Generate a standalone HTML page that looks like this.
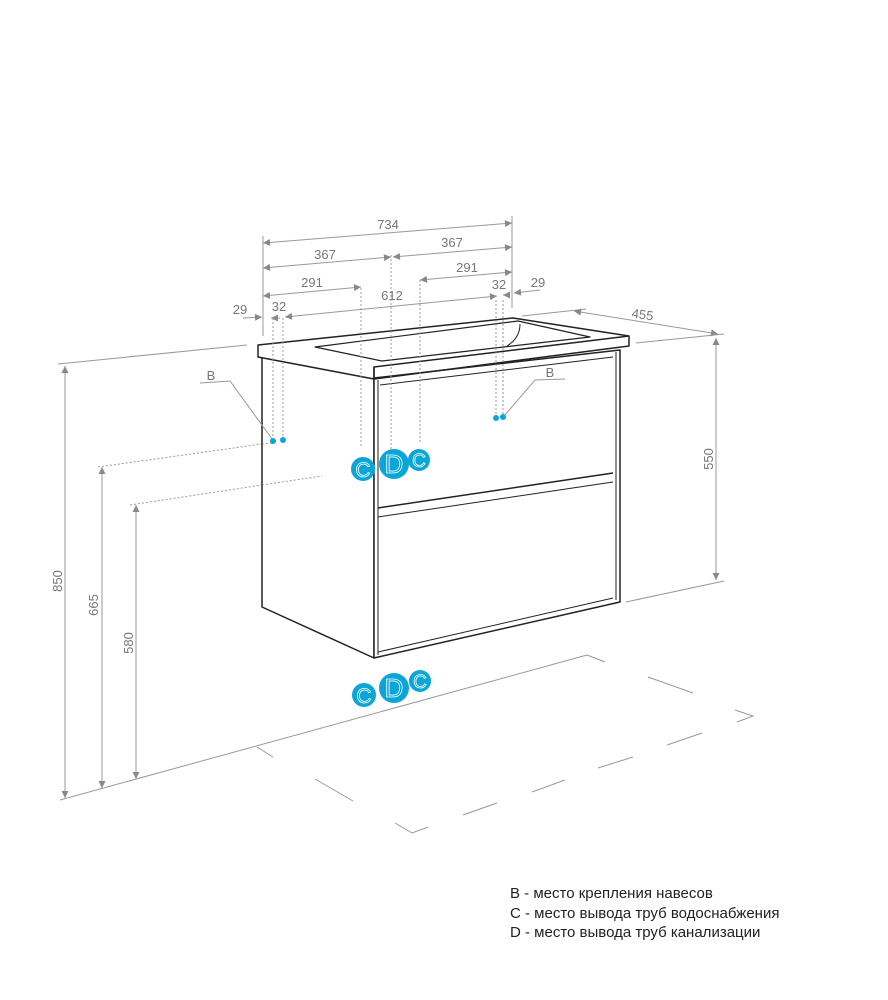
<!DOCTYPE html>
<html><head><meta charset="utf-8"><style>
html,body{margin:0;padding:0;background:#fff;}
svg{display:block;}
text{font-family:"Liberation Sans",sans-serif;}
</style></head><body>
<svg width="888" height="1000" viewBox="0 0 888 1000" xmlns="http://www.w3.org/2000/svg">
<defs>
<marker id="a" viewBox="0 0 10 10" refX="10" refY="5" markerWidth="9" markerHeight="7" orient="auto-start-reverse" markerUnits="userSpaceOnUse"><path d="M0,0 L10,5 L0,10 z" fill="#888"/></marker>
</defs>
<g stroke="#999" stroke-width="1" fill="none">
<line x1="263" y1="236" x2="263" y2="336"/>
<line x1="512" y1="216" x2="512" y2="308"/>
<line x1="263" y1="243" x2="512" y2="223" marker-start="url(#a)" marker-end="url(#a)"/>
<line x1="263" y1="268" x2="391" y2="257" marker-start="url(#a)" marker-end="url(#a)"/>
<line x1="393" y1="257" x2="512" y2="247" marker-start="url(#a)" marker-end="url(#a)"/>
<line x1="263" y1="296" x2="361" y2="287" marker-start="url(#a)" marker-end="url(#a)"/>
<line x1="420" y1="280" x2="512" y2="272" marker-start="url(#a)" marker-end="url(#a)"/>
<line x1="285" y1="317" x2="497" y2="296" marker-start="url(#a)" marker-end="url(#a)"/>
<line x1="243" y1="318" x2="262" y2="317" marker-end="url(#a)"/>
<line x1="280" y1="318" x2="271" y2="318" marker-end="url(#a)"/>
<line x1="540" y1="290" x2="514" y2="293" marker-end="url(#a)"/>
<line x1="505" y1="295" x2="503" y2="295" marker-end="url(#a)"/>
<line x1="522" y1="316" x2="586" y2="309"/>
<line x1="574" y1="311" x2="718" y2="334" marker-start="url(#a)" marker-end="url(#a)"/>
<line x1="636" y1="343" x2="724" y2="334"/>
<line x1="716" y1="338" x2="716" y2="580" marker-start="url(#a)" marker-end="url(#a)"/>
<line x1="626" y1="602" x2="724" y2="581"/>
<line x1="58" y1="364" x2="247" y2="345"/>
<line x1="65" y1="366" x2="65" y2="798" marker-start="url(#a)" marker-end="url(#a)"/>
<line x1="102" y1="467" x2="102" y2="788" marker-start="url(#a)" marker-end="url(#a)"/>
<line x1="136" y1="505" x2="136" y2="779" marker-start="url(#a)" marker-end="url(#a)"/>
<line x1="60" y1="800" x2="587" y2="655"/>
<line x1="587" y1="655" x2="605" y2="662"/>
<line x1="648" y1="677" x2="693" y2="693"/>
<polyline points="735,710 753,716 737,722"/>
<line x1="702" y1="733" x2="667" y2="745"/>
<line x1="633" y1="757" x2="598" y2="768"/>
<line x1="565" y1="780" x2="532" y2="792"/>
<line x1="497" y1="803" x2="463" y2="815"/>
<polyline points="428,827 412,833 395,823"/>
<line x1="315" y1="779" x2="353" y2="801"/>
<line x1="257" y1="747" x2="273" y2="757"/>
</g>
<g stroke="#999" stroke-width="1" stroke-dasharray="2,2" fill="none">
<line x1="98" y1="467" x2="262" y2="444"/>
<line x1="130" y1="505" x2="262" y2="485"/>
</g>
<!-- cabinet -->
<g stroke="#222" stroke-width="1.5" fill="#fff" stroke-linejoin="round">
<polygon points="262,357 374,378 374,658 262,607"/>
<polygon points="374,378 620,350 620,602 374,658"/>
<polygon points="258,345 513,318 629,336 374,367 374,379 258,357"/>
<polyline points="374,367 374,379 629,346 629,336" fill="none"/>
<polygon points="315,347 518,321 590,337 382,361" fill="none" stroke-width="1.2"/>
<path d="M520,324 Q520,338 507,346" fill="none" stroke-width="1"/>
<line x1="378" y1="380" x2="378" y2="655" stroke-width="1"/>
<line x1="616" y1="352" x2="616" y2="600" stroke-width="1"/>
<line x1="380" y1="385" x2="613" y2="357" stroke-width="1"/>
<line x1="378" y1="508" x2="613" y2="473"/>
<line x1="378" y1="517" x2="613" y2="482" stroke-width="1"/>
<line x1="378" y1="652" x2="613" y2="598" stroke-width="1"/>
</g>
<g stroke="#999" stroke-width="1" stroke-dasharray="2,2" fill="none">
<line x1="273" y1="318" x2="273" y2="438"/>
<line x1="283" y1="318" x2="283" y2="437"/>
<line x1="361" y1="288" x2="361" y2="448"/>
<line x1="391" y1="255" x2="391" y2="450"/>
<line x1="420" y1="280" x2="420" y2="443"/>
<line x1="496" y1="300" x2="496" y2="415"/>
<line x1="503" y1="300" x2="503" y2="414"/>
<line x1="262" y1="444" x2="272" y2="443"/>
<line x1="262" y1="485" x2="322" y2="476"/>
</g>
<g stroke="#999" stroke-width="1" fill="none">
<polyline points="200,383 230,381 272,439"/>
<polyline points="565,379 535,380 505,415"/>
</g>
<g fill="#0aa6d8">
<circle cx="273" cy="441" r="3"/><circle cx="283" cy="440" r="3"/>
<circle cx="496" cy="418" r="3"/><circle cx="503" cy="417" r="3"/>
<circle cx="363" cy="469" r="12"/><circle cx="394" cy="464" r="15"/><circle cx="419" cy="460" r="11"/>
<circle cx="364" cy="695" r="12"/><circle cx="394" cy="688" r="15"/><circle cx="420" cy="681" r="11"/>
</g>
<g fill="#0aa6d8" stroke="#fff" stroke-width="0.8" text-anchor="middle">
<text x="363" y="477" font-size="21">C</text><text x="394" y="473" font-size="26">D</text><text x="419" y="467" font-size="19">C</text>
<text x="364" y="703" font-size="21">C</text><text x="394" y="697" font-size="26">D</text><text x="420" y="688" font-size="19">C</text>
</g>
<g fill="#777" font-size="13" text-anchor="middle">
<text x="388" y="229">734</text>
<text x="325" y="259">367</text>
<text x="452" y="247">367</text>
<text x="312" y="287">291</text>
<text x="467" y="272">291</text>
<text x="392" y="300">612</text>
<text x="240" y="314">29</text>
<text x="279" y="311">32</text>
<text x="499" y="289">32</text>
<text x="538" y="287">29</text>
<text x="642" y="319" transform="rotate(8 642 319)">455</text>
<text x="211" y="380">B</text>
<text x="550" y="377">B</text>
<text transform="translate(62,581) rotate(-90)">850</text>
<text transform="translate(98,605) rotate(-90)">665</text>
<text transform="translate(133,643) rotate(-90)">580</text>
<text transform="translate(713,459) rotate(-90)">550</text>
</g>
<g fill="#222" font-size="15">
<text x="510" y="898">B - место крепления навесов</text>
<text x="510" y="918">C - место вывода труб водоснабжения</text>
<text x="510" y="937">D - место вывода труб канализации</text>
</g>
</svg>
</body></html>
